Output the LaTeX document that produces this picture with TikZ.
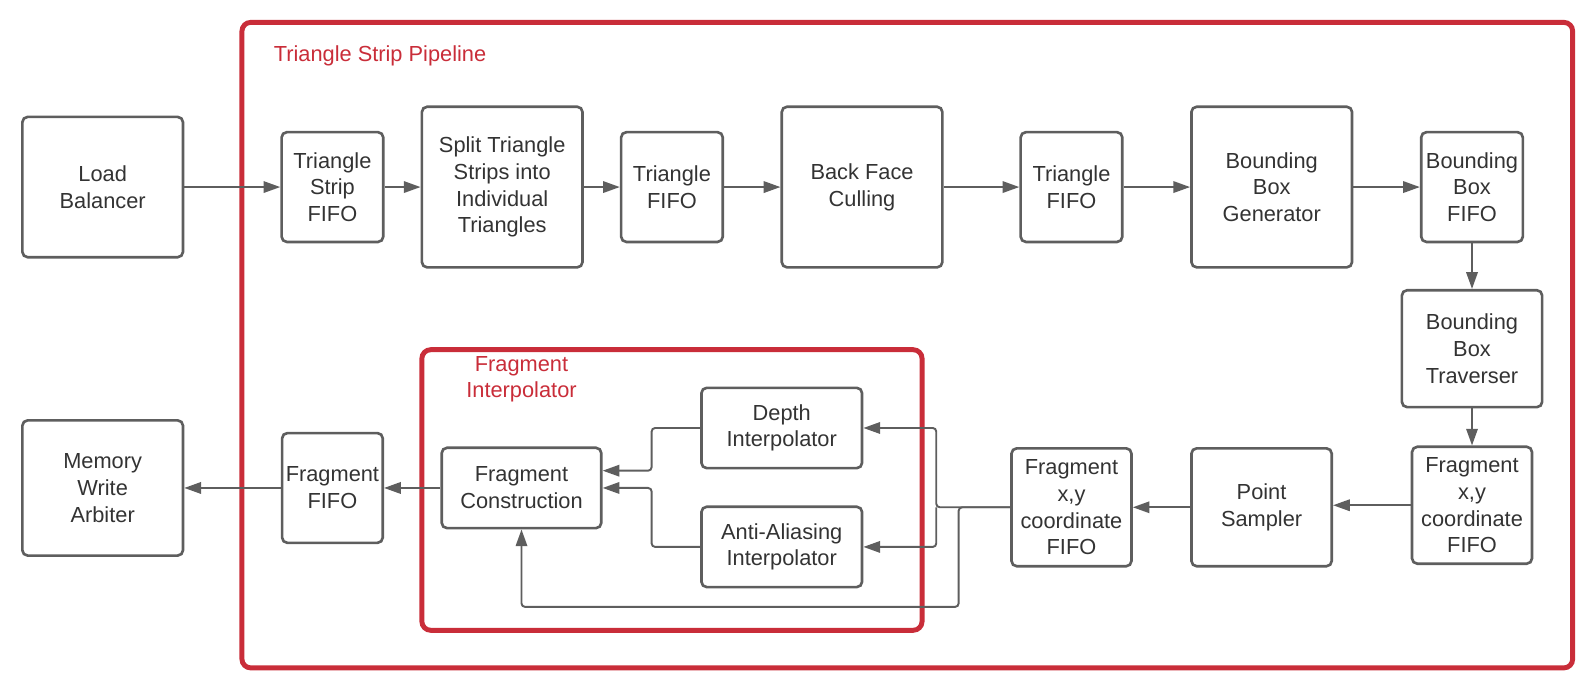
\documentclass[tikz,border=0pt]{standalone}
\usepackage{fontspec}
\setmainfont{Liberation Sans}
\usetikzlibrary{arrows.meta, calc, positioning}
\definecolor{boxgrey}{HTML}{5E5E5E}
\definecolor{txtgrey}{HTML}{333333}
\definecolor{pipered}{HTML}{C92D39}
\tikzset{>={Triangle[length=9.5pt,width=6.5pt]}}
\tikzset{
  blk/.style={draw=boxgrey, line width=1.5pt, rounded corners=3pt, align=center,
    inner sep=0pt, text=txtgrey, font=\fontsize{12.4}{15.2}\selectfont},
  sz/.style 2 args={minimum width=#1*0.02033cm, minimum height=#2*0.02033cm},
  flow/.style={->, draw=boxgrey, line width=1.1pt, rounded corners=2pt},
  grp/.style={draw=pipered, line width=2.8pt, rounded corners=5pt},
  grplabel/.style={text=pipered, align=center, inner sep=0pt,
    font=\fontsize{12.4}{15.2}\selectfont}
}

\begin{document}
\begin{tikzpicture}[x=0.02033cm, y=-0.02033cm]
			\useasboundingbox (0,0) rectangle (1568,678);
			\draw [grp] (238,22) rectangle (1547,657);
			\draw [grp] (415,344) rectangle (907,620);
			\node [grplabel, anchor=west] (tsplabel) at (269,55) {Triangle Strip Pipeline};
			\node [grplabel] (filabel) at (513,373) {Fragment\\Interpolator};

			\node [blk, sz={158}{138}] (lb) at (101,184) {Load\\Balancer};
			\node [blk, sz={100}{108}] (tsf) at (327,184) {Triangle\\Strip\\FIFO};
			\node [blk, sz={158}{158}] (split) at (494,184) {Split Triangle\\Strips into\\Individual\\Triangles};
			\node [blk, sz={100}{108}] (tf1) at (661,184) {Triangle\\FIFO};
			\node [blk, sz={158}{158}] (bfc) at (848,184) {Back Face\\Culling};
			\node [blk, sz={100}{108}] (tf2) at (1054,184) {Triangle\\FIFO};
			\node [blk, sz={158}{158}] (bbg) at (1251,184) {Bounding\\Box\\Generator};
			\node [blk, sz={100}{108}] (bbf) at (1448,184) {Bounding\\Box\\FIFO};
			\node [blk, sz={138}{115}] (bbt) at (1448,343) {Bounding\\Box\\Traverser};
			\node [blk, sz={118}{115}] (fxyr) at (1448,497) {Fragment\\x,y\\coordinate\\FIFO};
			\node [blk, sz={138}{116}] (ps) at (1241,499) {Point\\Sampler};
			\node [blk, sz={118}{116}] (fxyl) at (1054,499) {Fragment\\x,y\\coordinate\\FIFO};
			\node [blk, sz={158}{79}] (depth) at (769,421) {Depth\\Interpolator};
			\node [blk, sz={158}{79}] (aa) at (769,538) {Anti-Aliasing\\Interpolator};
			\node [blk, sz={157}{79}] (fc) at (513,480) {Fragment\\Construction};
			\node [blk, sz={99}{108}] (ff) at (327,480) {Fragment\\FIFO};
			\node [blk, sz={158}{133}] (mwa) at (101,480) {Memory\\Write\\Arbiter};

			\foreach \a/\b in {lb/tsf, tsf/split, split/tf1, tf1/bfc, bfc/tf2, tf2/bbg, bbg/bbf, bbf/bbt, bbt/fxyr, ps/fxyl, fc/ff, ff/mwa}
				\draw [flow] (\a) -- (\b);
			\draw [flow] (fxyr.west) -- (fxyr.west -| ps.east);

			\coordinate (fork) at (921,499);
			\coordinate (loop) at (943,597);
			\coordinate (dturn) at (641,463);
			\coordinate (aturn) at (641,480);
			\draw [flow] (fxyl.west) -- (fork) |- (depth.east);
			\draw [flow] (fork) |- (aa.east);
			\draw [flow] (fxyl.west) -| (loop) -| (fc.south);
			\draw [flow] (depth.west) -| (dturn) -- (dturn -| fc.east);
			\draw [flow] (aa.west) -| (aturn) -- (aturn -| fc.east);
		\end{tikzpicture}
\end{document}
